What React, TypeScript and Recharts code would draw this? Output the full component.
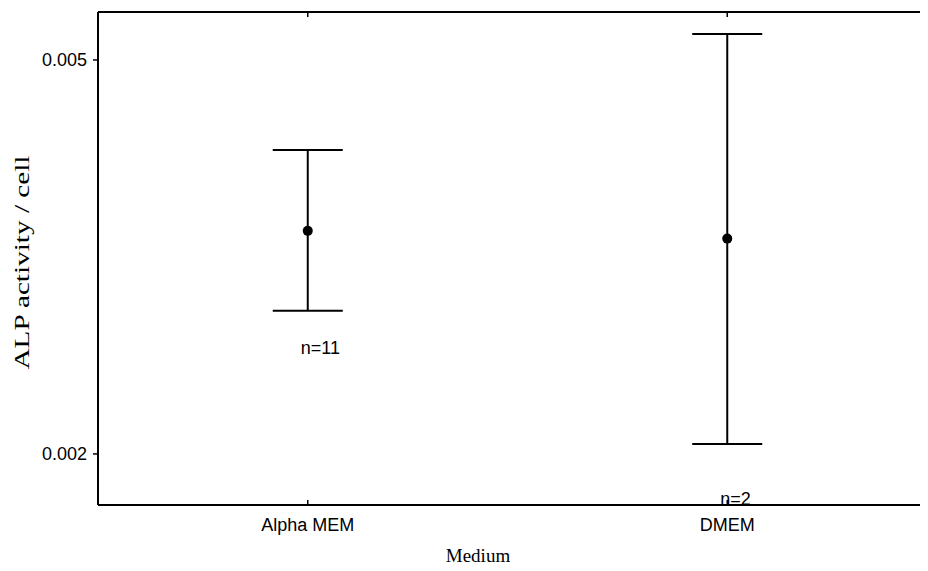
import {
  ComposedChart, Scatter, ErrorBar, XAxis, YAxis,
} from 'recharts'

const media = ['Alpha MEM', 'DMEM']
const means = [0.00336, 0.0033]
const lows = [0.00279, 0.002047]
const highs = [0.004056, 0.00531]
const nTexts = ['n=11', 'n=2']
// value at which each n label sits
const nPos = [0.00256, 0.0018]
const yTicks = [0.002, 0.005]
const yTickLabels = ['0.002', '0.005']

const data = media.map((name, i) => ({
  name,
  mean: means[i],
  err: [means[i] - lows[i], highs[i] - means[i]],
  nPos: nPos[i],
  nText: nTexts[i],
}))

const W = 940
const H = 563
const MARGIN = { top: 4, right: 11, bottom: 36, left: 0 }
const X_AXIS_H = 30
const PLOT_BOTTOM = H - MARGIN.bottom - X_AXIS_H
const sans = '"Liberation Sans", Arial, sans-serif'
const serif = '"Liberation Serif", "Times New Roman", serif'

const Dot = (props: any) => (
  <circle cx={props.cx} cy={props.cy} r={5} fill="#000" />
)

const NoTick = () => <g />

// category label plus a short tick pointing up into the plot
const CategoryTick = (props: any) => {
  const { x, payload } = props
  return (
    <g>
      <line x1={x} x2={x} y1={PLOT_BOTTOM} y2={PLOT_BOTTOM - 5} stroke="#000" strokeWidth={1.5} />
      <text
        x={x}
        y={PLOT_BOTTOM + 13}
        dy="0.71em"
        textAnchor="middle"
        fontFamily={sans}
        fontSize={18}
        fill="#000"
      >
        {payload.value}
      </text>
    </g>
  )
}

const NLabel = (props: any) => (
  <text
    x={props.cx - 7}
    y={props.cy}
    textAnchor="start"
    dominantBaseline="central"
    fontFamily={sans}
    fontSize={18}
    fill="#000"
  >
    {props.payload.nText}
  </text>
)

const YLabel = (props: any) => {
  const { y, height } = props.viewBox
  const cx = 14
  const cy = y + height / 2 + 4
  return (
    <text
      x={cx}
      y={cy}
      transform={`rotate(-90 ${cx} ${cy})`}
      textAnchor="middle"
      dominantBaseline="central"
      fontFamily={serif}
      fontSize={20}
      textLength={214}
      lengthAdjust="spacingAndGlyphs"
      fill="#000"
    >
      ALP activity / cell
    </text>
  )
}

const XLabel = () => (
  <text
    x={W / 2}
    y={547}
    textAnchor="middle"
    dominantBaseline="central"
    fontFamily={serif}
    fontSize={19}
    fill="#000"
  >
    Medium
  </text>
)

export default function App() {
  return (
    <div style={{ width: 920, height: H, overflow: 'hidden', background: '#fff' }}>
      <ComposedChart width={W} height={H} data={data} margin={MARGIN}>
        <XAxis
          dataKey="name"
          scale="band"
          height={X_AXIS_H}
          tickLine={false}
          axisLine={{ stroke: '#000', strokeWidth: 2 }}
          tick={CategoryTick}
          label={{ content: XLabel }}
        />
        <XAxis
          xAxisId="top"
          orientation="top"
          dataKey="name"
          scale="band"
          mirror
          tick={NoTick}
          tickSize={5}
          axisLine={{ stroke: '#000', strokeWidth: 2 }}
          tickLine={{ stroke: '#000', strokeWidth: 1.5 }}
        />
        <YAxis
          width={90}
          scale="log"
          domain={[0.001776, 0.00559]}
          allowDataOverflow
          ticks={yTicks}
          tickFormatter={(v: number) => yTickLabels[yTicks.indexOf(v)] ?? String(v)}
          tickSize={5}
          tickMargin={6}
          axisLine={{ stroke: '#000', strokeWidth: 2 }}
          tickLine={{ stroke: '#000', strokeWidth: 1.5 }}
          tick={{ fontFamily: sans, fontSize: 18, fill: '#000' }}
          label={{ content: YLabel }}
        />
        <Scatter dataKey="mean" shape={Dot} isAnimationActive={false}>
          <ErrorBar
            dataKey="err"
            direction="y"
            width={35}
            stroke="#000"
            strokeWidth={2}
            isAnimationActive={false}
          />
        </Scatter>
        <Scatter dataKey="nPos" shape={NLabel} isAnimationActive={false} />
      </ComposedChart>
    </div>
  )
}
